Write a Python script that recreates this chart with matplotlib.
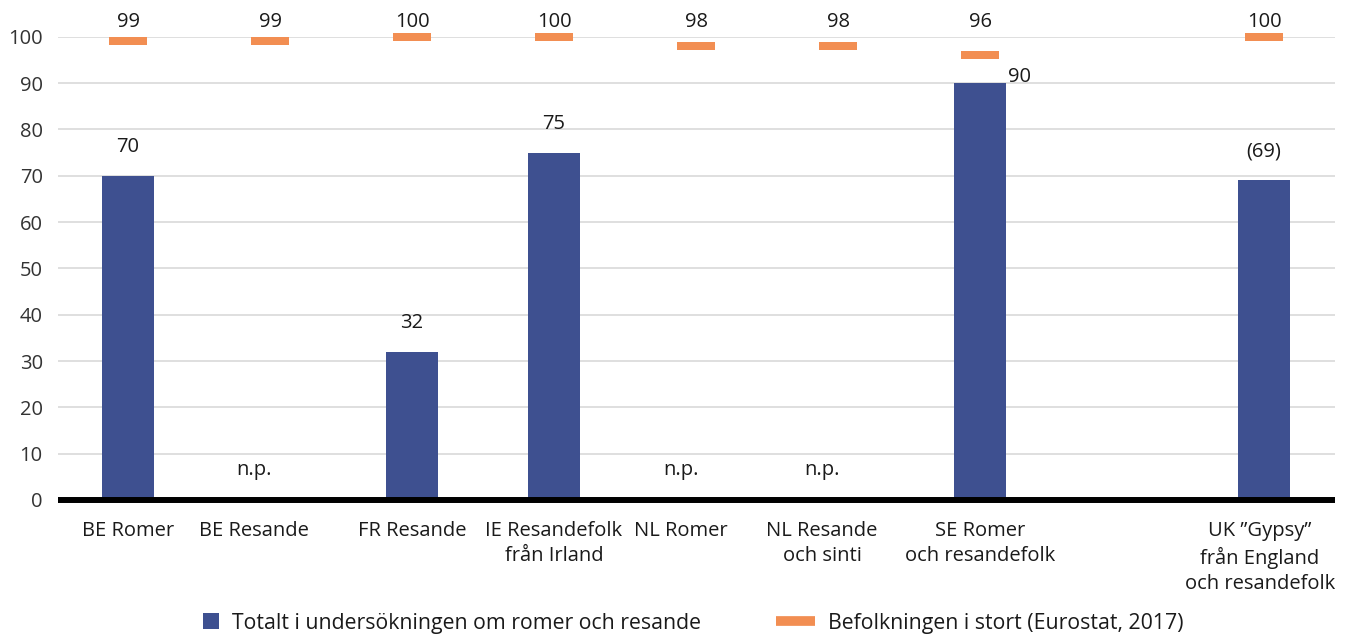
import numpy as np
import matplotlib
matplotlib.use("Agg")
import matplotlib.pyplot as plt
from matplotlib.patches import Patch, Rectangle
from matplotlib.lines import Line2D
from matplotlib.legend_handler import HandlerPatch

plt.rcParams['font.family'] = ['Open Sans', 'DejaVu Sans']

categories = ["BE Romer", "BE Resande", "FR Resande", "IE Resandefolk\nfrån Irland",
              "NL Romer", "NL Resande\noch sinti", "SE Romer\noch resandefolk", "",
              "UK \u201dGypsy\u201d\nfrån England\noch resandefolk"]
survey = [70, np.nan, 32, 75, np.nan, np.nan, 90, np.nan, 69]
survey_labels = ["70", "n.p.", "32", "75", "n.p.", "n.p.", "90", "", "(69)"]
general = [99, 99, 100, 100, 98, 98, 96, np.nan, 100]
general_labels = ["99", "99", "100", "100", "98", "98", "96", "", "100"]
yticks = [0, 10, 20, 30, 40, 50, 60, 70, 80, 90, 100]

series_names = ["Totalt i undersökningen om romer och resande",
                "Befolkningen i stort (Eurostat, 2017)"]

BLUE = "#3e5090"
ORANGE = "#f28e52"
TXT = "#1a1a1a"
FS = 14.5

fig = plt.figure(figsize=(13.5, 6.35), dpi=100)
ax = fig.add_axes([58/1350, 0.2126, (1335-58)/1350, 0.9422-0.2126])

x = np.arange(len(categories))
ax.set_xlim(-0.493, 8.5)
ax.set_ylim(0, 100)

ax.grid(axis="y", color="#d9d9d9", lw=1.2, zorder=0)
ax.set_axisbelow(True)

ax.bar(x, survey, width=0.373, color=BLUE, zorder=2)

# general population markers
gen = np.array(general, dtype=float)
thick = 1.73
ax.bar(x, np.where(np.isnan(gen), np.nan, thick), bottom=gen - thick/2,
       width=0.268, color=ORANGE, zorder=3, clip_on=False)

# horizontal offsets used by the original layout for some labels (pixels)
label_shift = {1: -16, 4: -15, 5: -16, 8: -4}
px = 1/142
shift = np.array([label_shift.get(i, 0) * px for i in range(len(categories))])

for i in range(len(categories)):
    s = survey[i]
    lab = survey_labels[i]
    if lab == "":
        continue
    if np.isnan(s):
        ax.text(i + shift[i], 6.5, lab, ha="center", va="center", fontsize=FS, color=TXT)
    elif i == 6:
        ax.text(i + 0.278, s + 1.3, lab, ha="center", va="center", fontsize=FS, color=TXT)
    else:
        ax.text(i, s + 6.2, lab, ha="center", va="center", fontsize=FS, color=TXT)

for i in range(len(categories)):
    if general_labels[i] == "":
        continue
    ax.text(i, 103.2, general_labels[i], ha="center", va="center", fontsize=FS,
            color=TXT, clip_on=False)

ax.set_yticks(yticks)
ax.set_yticklabels([str(t) for t in yticks], fontsize=FS, color="#333333")
ax.set_xticks(x + shift)
ax.set_xticklabels(categories, fontsize=FS, color=TXT, linespacing=1.35, va="top")
ax.tick_params(axis="both", length=0)
ax.tick_params(axis="x", pad=15)
ax.tick_params(axis="y", pad=11)

for sp in ["top", "right", "left"]:
    ax.spines[sp].set_visible(False)
ax.spines["bottom"].set_linewidth(4.3)
ax.spines["bottom"].set_color("black")
ax.spines["bottom"].set_capstyle("butt")
ax.spines["bottom"].set_zorder(4)


def square_patch(legend, orig_handle, xdescent, ydescent, width, height, fontsize):
    side = height * 1.05
    return Rectangle((width - side - xdescent, -ydescent + (height - side) / 2), side, side)


handles = [Patch(facecolor=BLUE, edgecolor="none"),
           Line2D([0], [0], color=ORANGE, lw=7, solid_capstyle="butt")]
fig.legend(handles, series_names, loc="center", bbox_to_anchor=(0.505, 1 - 623/635),
           ncol=2, frameon=False, fontsize=15.3, handlelength=1.85, handleheight=0.72,
           columnspacing=3.5, handletextpad=0.62, labelcolor=TXT,
           handler_map={Patch: HandlerPatch(patch_func=square_patch)})

fig.savefig("out.png", dpi=100)
